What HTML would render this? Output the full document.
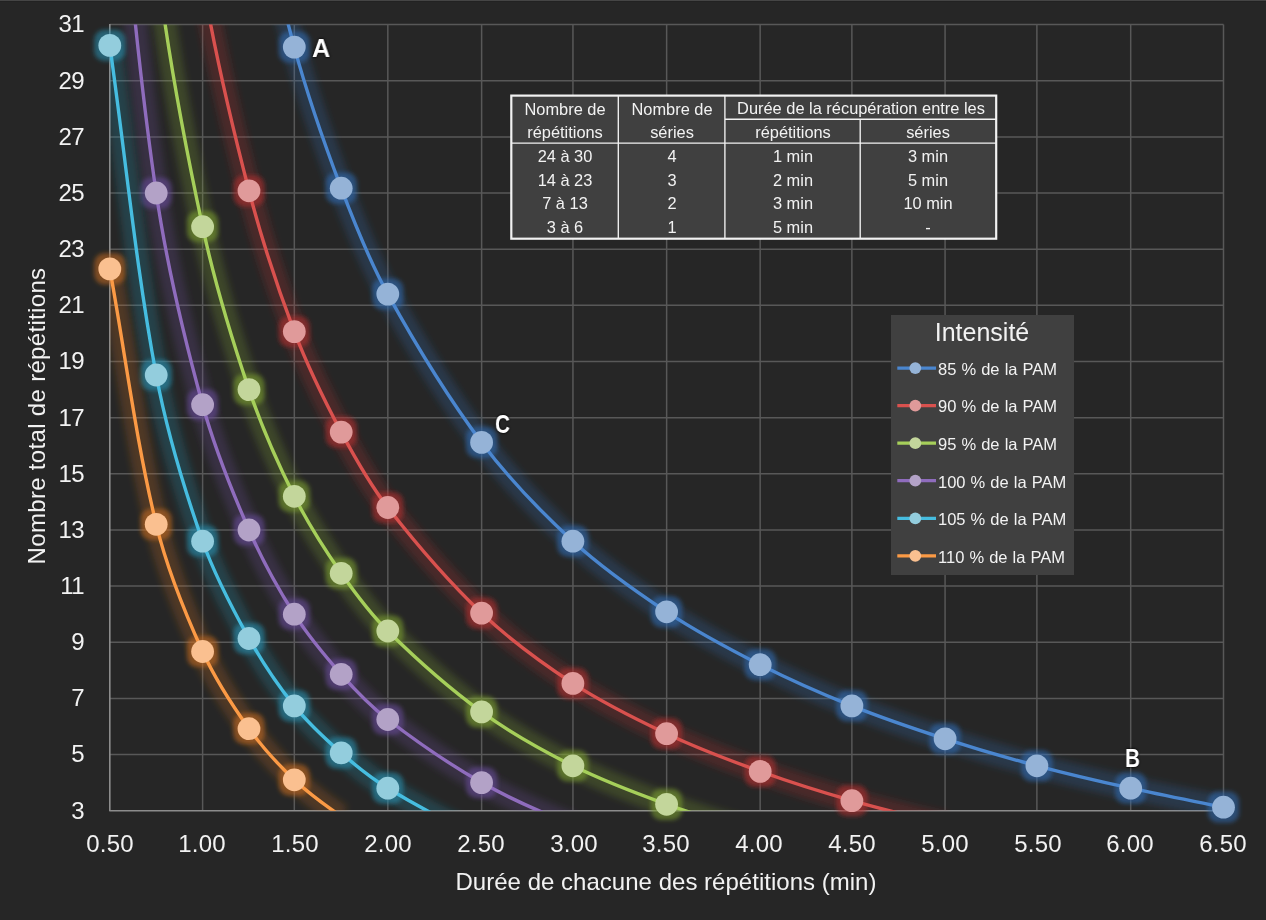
<!DOCTYPE html>
<html><head><meta charset="utf-8"><title>Chart</title>
<style>
html,body{margin:0;padding:0;background:#262626;}
body{width:1266px;height:920px;position:relative;overflow:hidden;font-family:"Liberation Sans",sans-serif;color:#f2f2f2;}
div{position:absolute;white-space:nowrap;}
.yl,.xl,.xt,.pt,.it,.ttl,.tc{will-change:transform;}
.topbar{left:0;top:0;width:1266px;height:1px;background:#454545;border-bottom:1px solid #222;}
.yl{left:24px;width:60px;text-align:right;font-size:24px;line-height:28px;height:28px;letter-spacing:-0.6px;}
.xl{width:90px;text-align:center;font-size:24px;line-height:28px;height:28px;letter-spacing:0.2px;}
.xt{left:366px;top:867.5px;width:600px;text-align:center;font-size:24px;line-height:28px;letter-spacing:0.02px;}
.yt{left:36.6px;top:416px;width:0;height:0;}
.yt div{width:400px;left:-200px;top:-14px;line-height:28px;text-align:center;font-size:24px;transform:rotate(-90deg);letter-spacing:0.32px;}
.pt{font-weight:bold;font-size:26px;line-height:26px;color:#fff;text-shadow:0 0 2px #000,0 0 3px rgba(0,0,0,.7);letter-spacing:-0.5px;}
.legend{left:891.3px;top:315px;width:182.5px;height:259.7px;background:#404040;}
.legend .ttl{left:-0.8px;top:2.3px;width:182px;text-align:center;font-size:25px;line-height:30px;}
.legend .it{left:47px;font-size:16.5px;line-height:20px;word-spacing:0.5px;}
.tc{width:300px;margin-left:-150px;text-align:center;font-size:16.4px;line-height:20px;height:20px;}
</style></head><body>
<div class="topbar"></div>

<svg width="1266" height="920" viewBox="0 0 1266 920" style="position:absolute;left:0;top:0">
<defs>
<clipPath id="plot"><rect x="109.80" y="24.60" width="1113.70" height="786.10"/></clipPath>
<filter id="blur" x="-20%" y="-20%" width="140%" height="140%"><feGaussianBlur stdDeviation="3.6"/></filter>
<filter id="mblur" x="-50%" y="-50%" width="200%" height="200%"><feGaussianBlur stdDeviation="2.3"/></filter>
</defs>
<line x1="109.8" y1="24.60" x2="1223.5" y2="24.60" stroke="#585858" stroke-width="1.5"/>
<line x1="109.8" y1="80.75" x2="1223.5" y2="80.75" stroke="#585858" stroke-width="1.5"/>
<line x1="109.8" y1="136.90" x2="1223.5" y2="136.90" stroke="#585858" stroke-width="1.5"/>
<line x1="109.8" y1="193.05" x2="1223.5" y2="193.05" stroke="#585858" stroke-width="1.5"/>
<line x1="109.8" y1="249.20" x2="1223.5" y2="249.20" stroke="#585858" stroke-width="1.5"/>
<line x1="109.8" y1="305.35" x2="1223.5" y2="305.35" stroke="#585858" stroke-width="1.5"/>
<line x1="109.8" y1="361.50" x2="1223.5" y2="361.50" stroke="#585858" stroke-width="1.5"/>
<line x1="109.8" y1="417.65" x2="1223.5" y2="417.65" stroke="#585858" stroke-width="1.5"/>
<line x1="109.8" y1="473.80" x2="1223.5" y2="473.80" stroke="#585858" stroke-width="1.5"/>
<line x1="109.8" y1="529.95" x2="1223.5" y2="529.95" stroke="#585858" stroke-width="1.5"/>
<line x1="109.8" y1="586.10" x2="1223.5" y2="586.10" stroke="#585858" stroke-width="1.5"/>
<line x1="109.8" y1="642.25" x2="1223.5" y2="642.25" stroke="#585858" stroke-width="1.5"/>
<line x1="109.8" y1="698.40" x2="1223.5" y2="698.40" stroke="#585858" stroke-width="1.5"/>
<line x1="109.8" y1="754.55" x2="1223.5" y2="754.55" stroke="#585858" stroke-width="1.5"/>
<line x1="202.61" y1="24.6" x2="202.61" y2="810.7" stroke="#585858" stroke-width="1.5"/>
<line x1="294.32" y1="24.6" x2="294.32" y2="810.7" stroke="#585858" stroke-width="1.5"/>
<line x1="387.83" y1="24.6" x2="387.83" y2="810.7" stroke="#585858" stroke-width="1.5"/>
<line x1="481.63" y1="24.6" x2="481.63" y2="810.7" stroke="#585858" stroke-width="1.5"/>
<line x1="572.94" y1="24.6" x2="572.94" y2="810.7" stroke="#585858" stroke-width="1.5"/>
<line x1="666.65" y1="24.6" x2="666.65" y2="810.7" stroke="#585858" stroke-width="1.5"/>
<line x1="760.16" y1="24.6" x2="760.16" y2="810.7" stroke="#585858" stroke-width="1.5"/>
<line x1="851.87" y1="24.6" x2="851.87" y2="810.7" stroke="#585858" stroke-width="1.5"/>
<line x1="945.08" y1="24.6" x2="945.08" y2="810.7" stroke="#585858" stroke-width="1.5"/>
<line x1="1036.88" y1="24.6" x2="1036.88" y2="810.7" stroke="#585858" stroke-width="1.5"/>
<line x1="1130.69" y1="24.6" x2="1130.69" y2="810.7" stroke="#585858" stroke-width="1.5"/>
<line x1="1223.50" y1="24.6" x2="1223.50" y2="810.7" stroke="#585858" stroke-width="1.5"/>
<path d="M109.8 23.900000000000002 L109.8 810.7 L1224.2 810.7" fill="none" stroke="#8c8c8c" stroke-width="1.6" stroke-linejoin="round"/>
<g clip-path="url(#plot)"><path d="M249.0 -150.6 C261.3 -84.2 276.6 -18.1 294.3 47.1 C307.3 94.9 323.7 141.9 341.2 188.2 C354.9 224.3 369.2 260.5 387.8 294.1 C416.0 345.2 446.7 395.7 481.6 442.4 C508.4 478.1 540.0 511.0 572.9 541.2 C601.7 567.5 634.1 590.3 666.6 611.8 C696.5 631.5 728.3 648.5 760.2 664.7 C790.0 679.9 820.8 693.4 851.9 705.9 C882.4 718.1 913.7 728.7 945.1 738.8 C975.4 748.6 1006.1 757.6 1036.9 765.8 C1067.9 774.0 1099.3 781.3 1130.7 788.2 C1161.5 795.1 1192.6 800.9 1223.5 807.2" fill="none" stroke="#2f6bb5" stroke-opacity="0.25" stroke-width="23" filter="url(#blur)"/></g>
<g filter="url(#mblur)"><rect x="278.7" y="31.5" width="31.2" height="31.2" rx="10" fill="#2f6bb5" fill-opacity="0.55"/><rect x="325.6" y="172.6" width="31.2" height="31.2" rx="10" fill="#2f6bb5" fill-opacity="0.55"/><rect x="372.2" y="278.5" width="31.2" height="31.2" rx="10" fill="#2f6bb5" fill-opacity="0.55"/><rect x="466.0" y="426.8" width="31.2" height="31.2" rx="10" fill="#2f6bb5" fill-opacity="0.55"/><rect x="557.3" y="525.6" width="31.2" height="31.2" rx="10" fill="#2f6bb5" fill-opacity="0.55"/><rect x="651.0" y="596.2" width="31.2" height="31.2" rx="10" fill="#2f6bb5" fill-opacity="0.55"/><rect x="744.6" y="649.1" width="31.2" height="31.2" rx="10" fill="#2f6bb5" fill-opacity="0.55"/><rect x="836.3" y="690.3" width="31.2" height="31.2" rx="10" fill="#2f6bb5" fill-opacity="0.55"/><rect x="929.5" y="723.2" width="31.2" height="31.2" rx="10" fill="#2f6bb5" fill-opacity="0.55"/><rect x="1021.3" y="750.2" width="31.2" height="31.2" rx="10" fill="#2f6bb5" fill-opacity="0.55"/><rect x="1115.1" y="772.6" width="31.2" height="31.2" rx="10" fill="#2f6bb5" fill-opacity="0.55"/><rect x="1207.9" y="791.6" width="31.2" height="31.2" rx="10" fill="#2f6bb5" fill-opacity="0.55"/></g>
<g clip-path="url(#plot)"><path d="M249.0 -150.6 C261.3 -84.2 276.6 -18.1 294.3 47.1 C307.3 94.9 323.7 141.9 341.2 188.2 C354.9 224.3 369.2 260.5 387.8 294.1 C416.0 345.2 446.7 395.7 481.6 442.4 C508.4 478.1 540.0 511.0 572.9 541.2 C601.7 567.5 634.1 590.3 666.6 611.8 C696.5 631.5 728.3 648.5 760.2 664.7 C790.0 679.9 820.8 693.4 851.9 705.9 C882.4 718.1 913.7 728.7 945.1 738.8 C975.4 748.6 1006.1 757.6 1036.9 765.8 C1067.9 774.0 1099.3 781.3 1130.7 788.2 C1161.5 795.1 1192.6 800.9 1223.5 807.2" fill="none" stroke="#4a86cf" stroke-width="3.4" stroke-linejoin="round"/></g>
<circle cx="294.3" cy="47.1" r="11.4" fill="#95b3d7"/><circle cx="341.2" cy="188.2" r="11.4" fill="#95b3d7"/><circle cx="387.8" cy="294.1" r="11.4" fill="#95b3d7"/><circle cx="481.6" cy="442.4" r="11.4" fill="#95b3d7"/><circle cx="572.9" cy="541.2" r="11.4" fill="#95b3d7"/><circle cx="666.6" cy="611.8" r="11.4" fill="#95b3d7"/><circle cx="760.2" cy="664.7" r="11.4" fill="#95b3d7"/><circle cx="851.9" cy="705.9" r="11.4" fill="#95b3d7"/><circle cx="945.1" cy="738.8" r="11.4" fill="#95b3d7"/><circle cx="1036.9" cy="765.8" r="11.4" fill="#95b3d7"/><circle cx="1130.7" cy="788.2" r="11.4" fill="#95b3d7"/><circle cx="1223.5" cy="807.2" r="11.4" fill="#95b3d7"/>
<g clip-path="url(#plot)"><path d="M202.6 -20.3 C214.3 50.7 230.9 121.2 249.0 190.8 C261.4 238.4 276.8 285.6 294.3 331.6 C307.5 366.0 323.9 399.5 341.2 432.1 C355.1 458.1 369.8 484.2 387.8 507.5 C416.6 544.5 447.7 580.8 481.6 613.1 C509.4 639.4 540.9 662.5 572.9 683.4 C602.5 702.7 634.6 718.6 666.6 733.7 C697.0 748.0 728.6 760.0 760.2 771.4 C790.3 782.3 821.0 791.9 851.9 800.7 C882.7 809.5 913.9 817.0 945.1 824.2" fill="none" stroke="#b8322f" stroke-opacity="0.25" stroke-width="23" filter="url(#blur)"/></g>
<g filter="url(#mblur)"><rect x="233.4" y="175.2" width="31.2" height="31.2" rx="10" fill="#b8322f" fill-opacity="0.55"/><rect x="278.7" y="316.0" width="31.2" height="31.2" rx="10" fill="#b8322f" fill-opacity="0.55"/><rect x="325.6" y="416.5" width="31.2" height="31.2" rx="10" fill="#b8322f" fill-opacity="0.55"/><rect x="372.2" y="491.9" width="31.2" height="31.2" rx="10" fill="#b8322f" fill-opacity="0.55"/><rect x="466.0" y="597.5" width="31.2" height="31.2" rx="10" fill="#b8322f" fill-opacity="0.55"/><rect x="557.3" y="667.8" width="31.2" height="31.2" rx="10" fill="#b8322f" fill-opacity="0.55"/><rect x="651.0" y="718.1" width="31.2" height="31.2" rx="10" fill="#b8322f" fill-opacity="0.55"/><rect x="744.6" y="755.8" width="31.2" height="31.2" rx="10" fill="#b8322f" fill-opacity="0.55"/><rect x="836.3" y="785.1" width="31.2" height="31.2" rx="10" fill="#b8322f" fill-opacity="0.55"/></g>
<g clip-path="url(#plot)"><path d="M202.6 -20.3 C214.3 50.7 230.9 121.2 249.0 190.8 C261.4 238.4 276.8 285.6 294.3 331.6 C307.5 366.0 323.9 399.5 341.2 432.1 C355.1 458.1 369.8 484.2 387.8 507.5 C416.6 544.5 447.7 580.8 481.6 613.1 C509.4 639.4 540.9 662.5 572.9 683.4 C602.5 702.7 634.6 718.6 666.6 733.7 C697.0 748.0 728.6 760.0 760.2 771.4 C790.3 782.3 821.0 791.9 851.9 800.7 C882.7 809.5 913.9 817.0 945.1 824.2" fill="none" stroke="#d9514e" stroke-width="3.4" stroke-linejoin="round"/></g>
<circle cx="249.0" cy="190.8" r="11.4" fill="#e09a9a"/><circle cx="294.3" cy="331.6" r="11.4" fill="#e09a9a"/><circle cx="341.2" cy="432.1" r="11.4" fill="#e09a9a"/><circle cx="387.8" cy="507.5" r="11.4" fill="#e09a9a"/><circle cx="481.6" cy="613.1" r="11.4" fill="#e09a9a"/><circle cx="572.9" cy="683.4" r="11.4" fill="#e09a9a"/><circle cx="666.6" cy="733.7" r="11.4" fill="#e09a9a"/><circle cx="760.2" cy="771.4" r="11.4" fill="#e09a9a"/><circle cx="851.9" cy="800.7" r="11.4" fill="#e09a9a"/>
<g clip-path="url(#plot)"><path d="M156.2 -42.8 C166.6 47.7 183.5 137.7 202.6 226.7 C214.4 281.8 230.9 336.2 249.0 389.6 C261.4 426.1 277.0 461.8 294.3 496.3 C307.8 523.1 324.1 548.6 341.2 573.3 C355.3 593.5 370.3 613.7 387.8 631.0 C417.1 659.9 448.4 687.7 481.6 711.9 C510.1 732.6 541.4 750.0 572.9 765.8 C603.1 780.8 634.9 792.9 666.6 804.3 C697.3 815.3 728.7 824.5 760.2 833.2" fill="none" stroke="#7ea232" stroke-opacity="0.25" stroke-width="23" filter="url(#blur)"/></g>
<g filter="url(#mblur)"><rect x="187.0" y="211.1" width="31.2" height="31.2" rx="10" fill="#7ea232" fill-opacity="0.55"/><rect x="233.4" y="374.0" width="31.2" height="31.2" rx="10" fill="#7ea232" fill-opacity="0.55"/><rect x="278.7" y="480.7" width="31.2" height="31.2" rx="10" fill="#7ea232" fill-opacity="0.55"/><rect x="325.6" y="557.7" width="31.2" height="31.2" rx="10" fill="#7ea232" fill-opacity="0.55"/><rect x="372.2" y="615.4" width="31.2" height="31.2" rx="10" fill="#7ea232" fill-opacity="0.55"/><rect x="466.0" y="696.3" width="31.2" height="31.2" rx="10" fill="#7ea232" fill-opacity="0.55"/><rect x="557.3" y="750.2" width="31.2" height="31.2" rx="10" fill="#7ea232" fill-opacity="0.55"/><rect x="651.0" y="788.7" width="31.2" height="31.2" rx="10" fill="#7ea232" fill-opacity="0.55"/></g>
<g clip-path="url(#plot)"><path d="M156.2 -42.8 C166.6 47.7 183.5 137.7 202.6 226.7 C214.4 281.8 230.9 336.2 249.0 389.6 C261.4 426.1 277.0 461.8 294.3 496.3 C307.8 523.1 324.1 548.6 341.2 573.3 C355.3 593.5 370.3 613.7 387.8 631.0 C417.1 659.9 448.4 687.7 481.6 711.9 C510.1 732.6 541.4 750.0 572.9 765.8 C603.1 780.8 634.9 792.9 666.6 804.3 C697.3 815.3 728.7 824.5 760.2 833.2" fill="none" stroke="#a6cf5a" stroke-width="3.4" stroke-linejoin="round"/></g>
<circle cx="202.6" cy="226.7" r="11.4" fill="#c3d69b"/><circle cx="249.0" cy="389.6" r="11.4" fill="#c3d69b"/><circle cx="294.3" cy="496.3" r="11.4" fill="#c3d69b"/><circle cx="341.2" cy="573.3" r="11.4" fill="#c3d69b"/><circle cx="387.8" cy="631.0" r="11.4" fill="#c3d69b"/><circle cx="481.6" cy="711.9" r="11.4" fill="#c3d69b"/><circle cx="572.9" cy="765.8" r="11.4" fill="#c3d69b"/><circle cx="666.6" cy="804.3" r="11.4" fill="#c3d69b"/>
<g clip-path="url(#plot)"><path d="M109.8 -228.1 C125.3 -87.7 135.7 53.5 156.2 193.0 C166.7 264.4 183.5 335.3 202.6 404.7 C214.4 447.6 231.2 489.3 249.0 530.0 C261.8 559.1 277.2 587.4 294.3 614.2 C308.0 635.5 324.4 655.4 341.2 674.3 C355.5 690.5 370.8 706.3 387.8 719.5 C417.6 742.4 449.0 764.0 481.6 782.6 C510.7 799.1 541.8 812.6 572.9 824.7" fill="none" stroke="#6a4a9c" stroke-opacity="0.25" stroke-width="23" filter="url(#blur)"/></g>
<g filter="url(#mblur)"><rect x="140.6" y="177.4" width="31.2" height="31.2" rx="10" fill="#6a4a9c" fill-opacity="0.55"/><rect x="187.0" y="389.1" width="31.2" height="31.2" rx="10" fill="#6a4a9c" fill-opacity="0.55"/><rect x="233.4" y="514.4" width="31.2" height="31.2" rx="10" fill="#6a4a9c" fill-opacity="0.55"/><rect x="278.7" y="598.6" width="31.2" height="31.2" rx="10" fill="#6a4a9c" fill-opacity="0.55"/><rect x="325.6" y="658.7" width="31.2" height="31.2" rx="10" fill="#6a4a9c" fill-opacity="0.55"/><rect x="372.2" y="703.9" width="31.2" height="31.2" rx="10" fill="#6a4a9c" fill-opacity="0.55"/><rect x="466.0" y="767.0" width="31.2" height="31.2" rx="10" fill="#6a4a9c" fill-opacity="0.55"/></g>
<g clip-path="url(#plot)"><path d="M109.8 -228.1 C125.3 -87.7 135.7 53.5 156.2 193.0 C166.7 264.4 183.5 335.3 202.6 404.7 C214.4 447.6 231.2 489.3 249.0 530.0 C261.8 559.1 277.2 587.4 294.3 614.2 C308.0 635.5 324.4 655.4 341.2 674.3 C355.5 690.5 370.8 706.3 387.8 719.5 C417.6 742.4 449.0 764.0 481.6 782.6 C510.7 799.1 541.8 812.6 572.9 824.7" fill="none" stroke="#8f6cbd" stroke-width="3.4" stroke-linejoin="round"/></g>
<circle cx="156.2" cy="193.0" r="11.4" fill="#b3a2c7"/><circle cx="202.6" cy="404.7" r="11.4" fill="#b3a2c7"/><circle cx="249.0" cy="530.0" r="11.4" fill="#b3a2c7"/><circle cx="294.3" cy="614.2" r="11.4" fill="#b3a2c7"/><circle cx="341.2" cy="674.3" r="11.4" fill="#b3a2c7"/><circle cx="387.8" cy="719.5" r="11.4" fill="#b3a2c7"/><circle cx="481.6" cy="782.6" r="11.4" fill="#b3a2c7"/>
<g clip-path="url(#plot)"><path d="M109.8 45.4 C125.3 155.2 135.8 266.1 156.2 375.0 C166.8 431.4 183.6 487.1 202.6 541.2 C214.5 574.9 231.6 607.2 249.0 638.5 C262.2 662.1 277.4 684.9 294.3 705.9 C308.1 723.1 324.6 738.3 341.2 752.9 C355.8 765.8 371.2 778.2 387.8 788.2 C418.0 806.4 449.4 823.3 481.6 837.7" fill="none" stroke="#2493b5" stroke-opacity="0.25" stroke-width="23" filter="url(#blur)"/></g>
<g filter="url(#mblur)"><rect x="94.2" y="29.8" width="31.2" height="31.2" rx="10" fill="#2493b5" fill-opacity="0.55"/><rect x="140.6" y="359.4" width="31.2" height="31.2" rx="10" fill="#2493b5" fill-opacity="0.55"/><rect x="187.0" y="525.6" width="31.2" height="31.2" rx="10" fill="#2493b5" fill-opacity="0.55"/><rect x="233.4" y="622.9" width="31.2" height="31.2" rx="10" fill="#2493b5" fill-opacity="0.55"/><rect x="278.7" y="690.3" width="31.2" height="31.2" rx="10" fill="#2493b5" fill-opacity="0.55"/><rect x="325.6" y="737.3" width="31.2" height="31.2" rx="10" fill="#2493b5" fill-opacity="0.55"/><rect x="372.2" y="772.6" width="31.2" height="31.2" rx="10" fill="#2493b5" fill-opacity="0.55"/></g>
<g clip-path="url(#plot)"><path d="M109.8 45.4 C125.3 155.2 135.8 266.1 156.2 375.0 C166.8 431.4 183.6 487.1 202.6 541.2 C214.5 574.9 231.6 607.2 249.0 638.5 C262.2 662.1 277.4 684.9 294.3 705.9 C308.1 723.1 324.6 738.3 341.2 752.9 C355.8 765.8 371.2 778.2 387.8 788.2 C418.0 806.4 449.4 823.3 481.6 837.7" fill="none" stroke="#46bde0" stroke-width="3.4" stroke-linejoin="round"/></g>
<circle cx="109.8" cy="45.4" r="11.4" fill="#93cddd"/><circle cx="156.2" cy="375.0" r="11.4" fill="#93cddd"/><circle cx="202.6" cy="541.2" r="11.4" fill="#93cddd"/><circle cx="249.0" cy="638.5" r="11.4" fill="#93cddd"/><circle cx="294.3" cy="705.9" r="11.4" fill="#93cddd"/><circle cx="341.2" cy="752.9" r="11.4" fill="#93cddd"/><circle cx="387.8" cy="788.2" r="11.4" fill="#93cddd"/>
<g clip-path="url(#plot)"><path d="M109.8 268.9 C125.3 354.0 135.9 440.5 156.2 524.3 C166.8 568.0 184.0 610.6 202.6 651.5 C215.0 678.7 231.6 704.4 249.0 728.7 C262.2 747.2 277.9 764.2 294.3 779.8 C308.6 793.4 324.9 805.2 341.2 816.3" fill="none" stroke="#c96c1c" stroke-opacity="0.25" stroke-width="23" filter="url(#blur)"/></g>
<g filter="url(#mblur)"><rect x="94.2" y="253.3" width="31.2" height="31.2" rx="10" fill="#c96c1c" fill-opacity="0.55"/><rect x="140.6" y="508.7" width="31.2" height="31.2" rx="10" fill="#c96c1c" fill-opacity="0.55"/><rect x="187.0" y="635.9" width="31.2" height="31.2" rx="10" fill="#c96c1c" fill-opacity="0.55"/><rect x="233.4" y="713.1" width="31.2" height="31.2" rx="10" fill="#c96c1c" fill-opacity="0.55"/><rect x="278.7" y="764.2" width="31.2" height="31.2" rx="10" fill="#c96c1c" fill-opacity="0.55"/></g>
<g clip-path="url(#plot)"><path d="M109.8 268.9 C125.3 354.0 135.9 440.5 156.2 524.3 C166.8 568.0 184.0 610.6 202.6 651.5 C215.0 678.7 231.6 704.4 249.0 728.7 C262.2 747.2 277.9 764.2 294.3 779.8 C308.6 793.4 324.9 805.2 341.2 816.3" fill="none" stroke="#fb9a45" stroke-width="3.4" stroke-linejoin="round"/></g>
<circle cx="109.8" cy="268.9" r="11.4" fill="#fac090"/><circle cx="156.2" cy="524.3" r="11.4" fill="#fac090"/><circle cx="202.6" cy="651.5" r="11.4" fill="#fac090"/><circle cx="249.0" cy="728.7" r="11.4" fill="#fac090"/><circle cx="294.3" cy="779.8" r="11.4" fill="#fac090"/>
<rect x="511.3" y="95.6" width="484.9" height="143.1" fill="#404040" stroke="#f2f2f2" stroke-width="2.2"/>
<path d="M618.3 95.6V238.7M724.9 95.6V238.7M860.2 119.2V238.7M511.3 143.1H996.2M724.9 119.2H996.2" fill="none" stroke="#f2f2f2" stroke-width="1.35"/>
</svg>
<div class="yl" style="top:10.4px">31</div>
<div class="yl" style="top:66.5px">29</div>
<div class="yl" style="top:122.7px">27</div>
<div class="yl" style="top:178.9px">25</div>
<div class="yl" style="top:235.0px">23</div>
<div class="yl" style="top:291.2px">21</div>
<div class="yl" style="top:347.3px">19</div>
<div class="yl" style="top:403.5px">17</div>
<div class="yl" style="top:459.6px">15</div>
<div class="yl" style="top:515.8px">13</div>
<div class="yl" style="top:571.9px">11</div>
<div class="yl" style="top:628.0px">9</div>
<div class="yl" style="top:684.2px">7</div>
<div class="yl" style="top:740.4px">5</div>
<div class="yl" style="top:796.5px">3</div>
<div class="xl" style="left:64.5px;top:829.6px">0.50</div>
<div class="xl" style="left:157.3px;top:829.6px">1.00</div>
<div class="xl" style="left:250.1px;top:829.6px">1.50</div>
<div class="xl" style="left:342.9px;top:829.6px">2.00</div>
<div class="xl" style="left:435.7px;top:829.6px">2.50</div>
<div class="xl" style="left:528.5px;top:829.6px">3.00</div>
<div class="xl" style="left:621.4px;top:829.6px">3.50</div>
<div class="xl" style="left:714.2px;top:829.6px">4.00</div>
<div class="xl" style="left:807.0px;top:829.6px">4.50</div>
<div class="xl" style="left:899.8px;top:829.6px">5.00</div>
<div class="xl" style="left:992.6px;top:829.6px">5.50</div>
<div class="xl" style="left:1085.4px;top:829.6px">6.00</div>
<div class="xl" style="left:1178.2px;top:829.6px">6.50</div>
<div class="xt">Durée de chacune des répétitions (min)</div>
<div class="yt"><div>Nombre total de répétitions</div></div>
<div class="pt" style="left:312.2px;top:34.9px;transform:scaleX(0.97);transform-origin:0 0">A</div>
<div class="pt" style="left:495.3px;top:411.2px;transform:scaleX(0.8);transform-origin:0 0">C</div>
<div class="pt" style="left:1124.6px;top:744.6px;transform:scaleX(0.8);transform-origin:0 0">B</div>
<div class="legend"><div class="ttl">Intensité</div><svg width="183" height="260" style="position:absolute;left:0;top:0"><line x1="6.3" y1="53.1" x2="45" y2="53.1" stroke="#4a86cf" stroke-width="3.3"/><circle cx="24.3" cy="53.1" r="5.9" fill="#95b3d7"/><line x1="6.3" y1="90.6" x2="45" y2="90.6" stroke="#d9514e" stroke-width="3.3"/><circle cx="24.3" cy="90.6" r="5.9" fill="#e09a9a"/><line x1="6.3" y1="128.2" x2="45" y2="128.2" stroke="#a6cf5a" stroke-width="3.3"/><circle cx="24.3" cy="128.2" r="5.9" fill="#c3d69b"/><line x1="6.3" y1="165.7" x2="45" y2="165.7" stroke="#8f6cbd" stroke-width="3.3"/><circle cx="24.3" cy="165.7" r="5.9" fill="#b3a2c7"/><line x1="6.3" y1="203.3" x2="45" y2="203.3" stroke="#46bde0" stroke-width="3.3"/><circle cx="24.3" cy="203.3" r="5.9" fill="#93cddd"/><line x1="6.3" y1="240.8" x2="45" y2="240.8" stroke="#fb9a45" stroke-width="3.3"/><circle cx="24.3" cy="240.8" r="5.9" fill="#fac090"/></svg><div class="it" style="top:43.9px">85 % de la PAM</div><div class="it" style="top:81.4px">90 % de la PAM</div><div class="it" style="top:119.0px">95 % de la PAM</div><div class="it" style="top:156.5px">100 % de la PAM</div><div class="it" style="top:194.1px">105 % de la PAM</div><div class="it" style="top:231.6px">110 % de la PAM</div></div>
<div class="tc" style="left:564.8px;top:98.6px">Nombre de</div>
<div class="tc" style="left:564.8px;top:121.8px">répétitions</div>
<div class="tc" style="left:671.6px;top:98.6px">Nombre de</div>
<div class="tc" style="left:671.6px;top:121.8px">séries</div>
<div class="tc" style="left:860.5px;top:98.0px">Durée de la récupération entre les</div>
<div class="tc" style="left:792.5px;top:121.8px">répétitions</div>
<div class="tc" style="left:928.2px;top:121.8px">séries</div>
<div class="tc" style="left:564.8px;top:145.9px">24 à 30</div>
<div class="tc" style="left:671.6px;top:145.9px">4</div>
<div class="tc" style="left:792.5px;top:145.9px">1 min</div>
<div class="tc" style="left:928.2px;top:145.9px">3 min</div>
<div class="tc" style="left:564.8px;top:169.7px">14 à 23</div>
<div class="tc" style="left:671.6px;top:169.7px">3</div>
<div class="tc" style="left:792.5px;top:169.7px">2 min</div>
<div class="tc" style="left:928.2px;top:169.7px">5 min</div>
<div class="tc" style="left:564.8px;top:193.4px">7 à 13</div>
<div class="tc" style="left:671.6px;top:193.4px">2</div>
<div class="tc" style="left:792.5px;top:193.4px">3 min</div>
<div class="tc" style="left:928.2px;top:193.4px">10 min</div>
<div class="tc" style="left:564.8px;top:217.1px">3 à 6</div>
<div class="tc" style="left:671.6px;top:217.1px">1</div>
<div class="tc" style="left:792.5px;top:217.1px">5 min</div>
<div class="tc" style="left:928.2px;top:217.1px">-</div>
</body></html>
